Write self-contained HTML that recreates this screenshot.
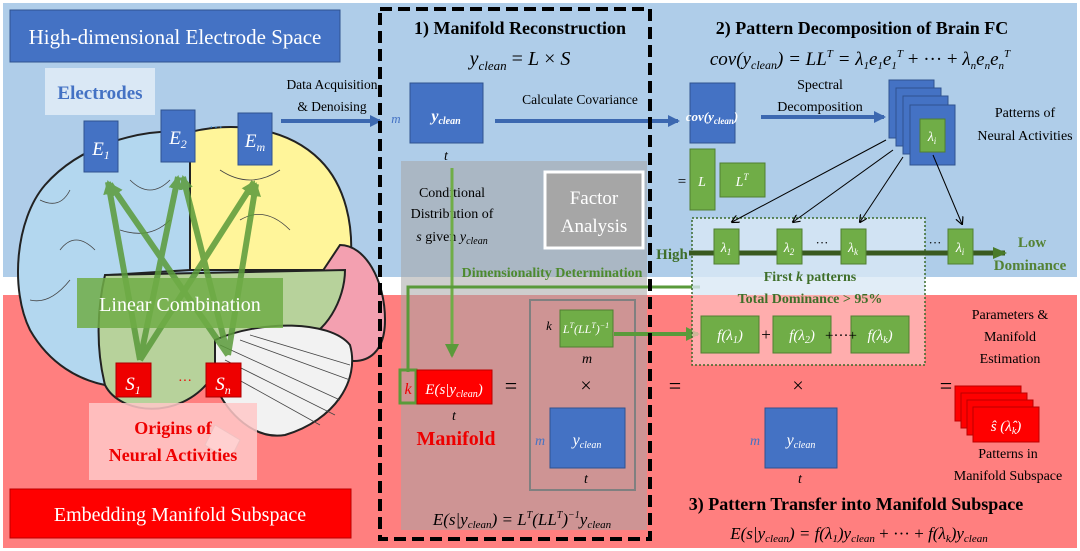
<!DOCTYPE html>
<html><head><meta charset="utf-8"><style>
body{margin:0;width:1080px;height:551px;overflow:hidden;background:#fff}
svg{display:block}
text{font-family:"Liberation Serif",serif}
.it{font-style:italic}
</style></head><body>
<svg width="1080" height="551" viewBox="0 0 1080 551" xmlns="http://www.w3.org/2000/svg">
<defs>
<marker id="ab" markerUnits="userSpaceOnUse" markerWidth="14" markerHeight="14" refX="10" refY="7" orient="auto"><path d="M0,1 L12,7 L0,13 z" fill="#3c68b0"/></marker>
<marker id="ag" markerUnits="userSpaceOnUse" markerWidth="16" markerHeight="16" refX="12" refY="8" orient="auto"><path d="M0,1 L14,8 L0,15 z" fill="#5a9a3a"/></marker>
<marker id="ak" markerWidth="8" markerHeight="8" refX="7" refY="4" orient="auto"><path d="M0,0 L8,4 L0,8" fill="none" stroke="#000" stroke-width="1.2"/></marker>
<marker id="agd" markerUnits="userSpaceOnUse" markerWidth="16" markerHeight="16" refX="12" refY="8" orient="auto"><path d="M0,2 L14,8 L0,14 z" fill="#4a7a2a"/></marker>
</defs>
<rect x="3" y="3" width="1074" height="274" fill="#afcde9"/>
<rect x="3" y="295" width="1074" height="253" fill="#ff7f7f"/>
<!-- brain -->
<g stroke="#222" stroke-width="2">
<path d="M190,132 C140,128 80,145 45,185 C15,220 10,290 30,330 C50,365 80,380 105,385 L110,275 L190,270 z" fill="#b3d7ef"/>
<path d="M190,132 C240,120 290,130 320,160 C345,185 355,225 350,270 L190,270 z" fill="#fff59a"/>
<path d="M340,245 C365,245 385,280 385,320 C385,350 370,365 345,360 L300,340 L320,275 z" fill="#f3a0b0"/>
<path d="M105,275 L345,270 C345,300 325,335 300,340 C260,350 230,360 210,380 C180,420 120,415 105,385 C95,345 98,305 105,275 z" fill="#b7d29b"/>
<path d="M215,340 C260,320 330,320 350,345 C360,380 335,420 285,435 C255,440 228,415 215,385 z" fill="#f2f2f2"/>
</g>
<g stroke="#444" stroke-width="0.8" fill="none">
<path d="M220,345 L340,400 M225,360 L335,415 M230,375 L320,425 M240,340 L350,380 M250,335 L350,365"/>
<path d="M40,200 q20,10 30,-10 M60,250 q15,-20 35,0 M30,300 q20,5 40,-20 M130,180 q20,20 40,0 M120,230 q30,10 50,-10 M220,170 q30,20 60,0 M240,220 q25,-15 50,10"/>
</g>
<path d="M215,425 L240,440 L230,460 L205,445 z" fill="#fff" stroke="#999"/>
<rect x="10" y="10" width="330" height="52" fill="#4472c4" stroke="#2f528f"/>
<text x="175" y="44" font-size="21" fill="#fff" text-anchor="middle">High-dimensional Electrode Space</text>
<rect x="45" y="68" width="110" height="47" fill="#dae8f5"/>
<text x="100" y="99" font-size="19" font-weight="bold" fill="#4472c4" text-anchor="middle">Electrodes</text>
<g stroke="#5a9a3a" stroke-width="6" opacity="0.85" marker-end="url(#ag)">
<line x1="140" y1="360" x2="108" y2="182"/>
<line x1="228" y1="355" x2="110" y2="184"/>
<line x1="140" y1="360" x2="178" y2="177"/>
<line x1="228" y1="355" x2="183" y2="177"/>
<line x1="140" y1="360" x2="254" y2="182"/>
<line x1="228" y1="355" x2="256" y2="184"/>
</g>
<rect x="77" y="278" width="206" height="50" fill="#70ad47" opacity="0.85"/>
<text x="180" y="311" font-size="20" fill="#fff" text-anchor="middle">Linear Combination</text>
<rect x="84" y="121" width="34" height="51" fill="#4472c4" stroke="#2f528f"/>
<text x="101" y="155" font-size="19" fill="#fff" text-anchor="middle" class="it">E<tspan font-size="12" dy="4">1</tspan></text>
<rect x="161" y="110" width="34" height="52" fill="#4472c4" stroke="#2f528f"/>
<text x="178" y="144" font-size="19" fill="#fff" text-anchor="middle" class="it">E<tspan font-size="12" dy="4">2</tspan></text>
<text x="216" y="132" font-size="14" fill="#2e75b6" text-anchor="middle">···</text>
<rect x="238" y="113" width="34" height="52" fill="#4472c4" stroke="#2f528f"/>
<text x="255" y="147" font-size="19" fill="#fff" text-anchor="middle" class="it">E<tspan font-size="12" dy="4">m</tspan></text>
<rect x="116" y="363" width="35" height="34" fill="#e00" stroke="#a00"/>
<text x="133" y="390" font-size="19" fill="#fff" text-anchor="middle" class="it">S<tspan font-size="12" dy="4">1</tspan></text>
<text x="185" y="385" font-size="14" fill="#e00" text-anchor="middle">···</text>
<rect x="206" y="363" width="35" height="34" fill="#e00" stroke="#a00"/>
<text x="223" y="390" font-size="19" fill="#fff" text-anchor="middle" class="it">S<tspan font-size="12" dy="4">n</tspan></text>
<rect x="89" y="403" width="168" height="77" fill="#ffc8c8" opacity="0.85"/>
<text x="173" y="434" font-size="18" font-weight="bold" fill="#e00" text-anchor="middle">Origins of</text>
<text x="173" y="461" font-size="18" font-weight="bold" fill="#e00" text-anchor="middle">Neural Activities</text>
<rect x="10" y="489" width="341" height="49" fill="#f00" stroke="#b00"/>
<text x="180" y="521" font-size="20" fill="#fff" text-anchor="middle">Embedding Manifold Subspace</text>
<text x="332" y="89" font-size="13.5" text-anchor="middle">Data Acquisition</text>
<text x="332" y="111" font-size="13.5" text-anchor="middle">&amp; Denoising</text>
<line x1="281" y1="121" x2="380" y2="121" stroke="#3c68b0" stroke-width="4" marker-end="url(#ab)"/>
<!-- section 1 -->
<rect x="401" y="161" width="246" height="369" fill="#a6a6a6" opacity="0.55"/>
<text x="520" y="34" font-size="18" font-weight="bold" text-anchor="middle">1) Manifold Reconstruction</text>
<text x="520" y="65" font-size="20" text-anchor="middle" class="it">y<tspan font-size="13" dy="5">clean</tspan><tspan dy="-5" font-style="normal"> = </tspan>L<tspan font-style="normal"> × </tspan>S</text>
<text x="396" y="123" font-size="13" fill="#4472c4" class="it" text-anchor="middle">m</text>
<rect x="410" y="83" width="73" height="60" fill="#4472c4" stroke="#2f528f"/>
<text x="446" y="121" font-size="16" fill="#fff" font-weight="bold" class="it" text-anchor="middle">y<tspan font-size="10" dy="3">clean</tspan></text>
<text x="446" y="160" font-size="14" class="it" text-anchor="middle">t</text>
<text x="580" y="104" font-size="13.5" text-anchor="middle">Calculate Covariance</text>
<line x1="495" y1="121" x2="678" y2="121" stroke="#3c68b0" stroke-width="4" marker-end="url(#ab)"/>
<text x="452" y="197" font-size="14" text-anchor="middle">Conditional</text>
<text x="452" y="218" font-size="14" text-anchor="middle">Distribution of</text>
<text x="452" y="241" font-size="14" text-anchor="middle"><tspan class="it">s</tspan> given <tspan class="it">y<tspan font-size="10" dy="3">clean</tspan></tspan></text>
<rect x="545" y="172" width="98" height="76" fill="#a6a6a6" stroke="#fff" stroke-width="3"/>
<text x="594" y="204" font-size="19" fill="#fff" text-anchor="middle">Factor</text>
<text x="594" y="232" font-size="19" fill="#fff" text-anchor="middle">Analysis</text>
<text x="552" y="277" font-size="14" font-weight="bold" fill="#4e8a2e" text-anchor="middle">Dimensionality Determination</text>
<line x1="452" y1="168" x2="452" y2="356" stroke="#70ad47" stroke-width="3" marker-end="url(#ag)"/>
<polyline points="700,287 408,287 408,372" fill="none" stroke="#5a9a3a" stroke-width="3"/>
<rect x="400" y="370" width="16" height="33" fill="none" stroke="#5a9a3a" stroke-width="3"/>
<text x="408" y="394" font-size="16" fill="#e00" class="it" text-anchor="middle">k</text>
<rect x="417" y="370" width="75" height="34" fill="#f00" stroke="#b00"/>
<text x="454" y="394" font-size="15" fill="#fff" class="it" text-anchor="middle">E(s|y<tspan font-size="10" dy="3">clean</tspan><tspan dy="-3">)</tspan></text>
<text x="454" y="420" font-size="14" class="it" text-anchor="middle">t</text>
<text x="456" y="445" font-size="20" font-weight="bold" fill="#e00" text-anchor="middle">Manifold</text>
<text x="511" y="393" font-size="22" text-anchor="middle">=</text>
<rect x="530" y="300" width="105" height="190" fill="none" stroke="#808080" stroke-width="2"/>
<text x="549" y="330" font-size="13" class="it" text-anchor="middle">k</text>
<rect x="560" y="310" width="53" height="37" fill="#70ad47" stroke="#507e32"/>
<text x="586" y="333" font-size="12" fill="#fff" class="it" text-anchor="middle">L<tspan font-size="8" dy="-5">T</tspan><tspan dy="5">(LL</tspan><tspan font-size="8" dy="-5">T</tspan><tspan dy="5">)</tspan><tspan font-size="8" dy="-5">−1</tspan></text>
<text x="587" y="363" font-size="14" class="it" text-anchor="middle">m</text>
<text x="586" y="392" font-size="20" text-anchor="middle">×</text>
<text x="540" y="445" font-size="14" fill="#4472c4" class="it" text-anchor="middle">m</text>
<rect x="550" y="408" width="75" height="60" fill="#4472c4" stroke="#2f528f"/>
<text x="587" y="445" font-size="16" fill="#fff" class="it" text-anchor="middle">y<tspan font-size="10" dy="3">clean</tspan></text>
<text x="586" y="483" font-size="14" class="it" text-anchor="middle">t</text>
<line x1="614" y1="334" x2="698" y2="334" stroke="#5a9a3a" stroke-width="4" marker-end="url(#ag)"/>
<text x="522" y="525" font-size="17" class="it" text-anchor="middle">E(s|y<tspan font-size="11" dy="3">clean</tspan><tspan dy="-3">) = L</tspan><tspan font-size="10" dy="-7">T</tspan><tspan dy="7">(LL</tspan><tspan font-size="10" dy="-7">T</tspan><tspan dy="7">)</tspan><tspan font-size="10" dy="-7">−1</tspan><tspan dy="7">y</tspan><tspan font-size="11" dy="3">clean</tspan></text>
<rect x="380" y="9" width="270" height="530" fill="none" stroke="#000" stroke-width="4" stroke-dasharray="12,6"/>
<!-- section 2 -->
<text x="862" y="34" font-size="18" font-weight="bold" text-anchor="middle">2) Pattern Decomposition of Brain FC</text>
<text x="860" y="65" font-size="19" class="it" text-anchor="middle">cov(y<tspan font-size="12" dy="4">clean</tspan><tspan dy="-4">) = LL</tspan><tspan font-size="11" dy="-8">T</tspan><tspan dy="8"> = λ</tspan><tspan font-size="11" dy="4">1</tspan><tspan dy="-4">e</tspan><tspan font-size="11" dy="4">1</tspan><tspan dy="-4">e</tspan><tspan font-size="11" dy="4">1</tspan><tspan font-size="11" dy="-12">T</tspan><tspan dy="8" font-style="normal"> + ··· + </tspan>λ<tspan font-size="11" dy="4">n</tspan><tspan dy="-4">e</tspan><tspan font-size="11" dy="4">n</tspan><tspan dy="-4">e</tspan><tspan font-size="11" dy="4">n</tspan><tspan font-size="11" dy="-12">T</tspan></text>
<rect x="690" y="83" width="45" height="60" fill="#4472c4" stroke="#2f528f"/>
<text x="712" y="121" font-size="13" fill="#fff" class="it" font-weight="bold" text-anchor="middle">cov(y<tspan font-size="9" dy="3">clean</tspan><tspan dy="-3">)</tspan></text>
<text x="820" y="89" font-size="14" text-anchor="middle">Spectral</text>
<text x="820" y="111" font-size="14" text-anchor="middle">Decomposition</text>
<line x1="761" y1="117" x2="884" y2="117" stroke="#3c68b0" stroke-width="4" marker-end="url(#ab)"/>
<g fill="#4472c4" stroke="#2f528f">
<rect x="889" y="80" width="45" height="58"/>
<rect x="896" y="88" width="45" height="58"/>
<rect x="903" y="96" width="45" height="58"/>
<rect x="910" y="105" width="45" height="60"/>
</g>
<rect x="920" y="119" width="25" height="33" fill="#70ad47" stroke="#507e32"/>
<text x="932" y="141" font-size="14" fill="#fff" class="it" text-anchor="middle">λ<tspan font-size="9" dy="3">i</tspan></text>
<text x="1025" y="117" font-size="14" text-anchor="middle">Patterns of</text>
<text x="1025" y="140" font-size="14" text-anchor="middle">Neural Activities</text>
<text x="682" y="186" font-size="15" text-anchor="middle">=</text>
<rect x="690" y="149" width="25" height="61" fill="#70ad47" stroke="#507e32"/>
<text x="702" y="186" font-size="14" fill="#fff" class="it" text-anchor="middle">L</text>
<rect x="720" y="163" width="45" height="34" fill="#70ad47" stroke="#507e32"/>
<text x="742" y="186" font-size="14" fill="#fff" class="it" text-anchor="middle">L<tspan font-size="9" dy="-6">T</tspan></text>
<rect x="692" y="218" width="233" height="77" fill="#dae8f5" opacity="0.8"/>
<rect x="692" y="295" width="233" height="70" fill="#ffc0c0" opacity="0.7"/>
<rect x="692" y="218" width="233" height="147" fill="none" stroke="#3a6a2a" stroke-width="1.5" stroke-dasharray="2,2"/>
<g stroke="#000" stroke-width="1" marker-end="url(#ak)">
<line x1="886" y1="140" x2="732" y2="222"/>
<line x1="893" y1="150" x2="793" y2="222"/>
<line x1="903" y1="157" x2="860" y2="222"/>
<line x1="933" y1="155" x2="962" y2="224"/>
</g>
<text x="672" y="259" font-size="15" font-weight="bold" fill="#3f6f2a" text-anchor="middle">High</text>
<line x1="689" y1="253" x2="1005" y2="253" stroke="#3a5a20" stroke-width="5" marker-end="url(#agd)"/>
<g fill="#70ad47" stroke="#507e32">
<rect x="714" y="229" width="25" height="35"/><rect x="777" y="229" width="25" height="35"/>
<rect x="841" y="229" width="25" height="35"/><rect x="948" y="229" width="25" height="35"/>
</g>
<g font-size="14" fill="#fff" class="it" text-anchor="middle">
<text x="726" y="252">λ<tspan font-size="9" dy="3">1</tspan></text>
<text x="789" y="252">λ<tspan font-size="9" dy="3">2</tspan></text>
<text x="853" y="252">λ<tspan font-size="9" dy="3">k</tspan></text>
<text x="960" y="252">λ<tspan font-size="9" dy="3">i</tspan></text>
</g>
<text x="822" y="247" font-size="13" text-anchor="middle">···</text>
<text x="935" y="247" font-size="13" text-anchor="middle">···</text>
<text x="1032" y="247" font-size="15" font-weight="bold" fill="#548235" text-anchor="middle">Low</text>
<text x="1030" y="270" font-size="15" font-weight="bold" fill="#548235" text-anchor="middle">Dominance</text>
<text x="810" y="281" font-size="14" font-weight="bold" fill="#3f6f2a" text-anchor="middle">First <tspan class="it">k</tspan> patterns</text>
<text x="810" y="303" font-size="14" font-weight="bold" fill="#3f6f2a" text-anchor="middle">Total Dominance &gt; 95%</text>
<g fill="#70ad47" stroke="#507e32">
<rect x="701" y="316" width="58" height="37"/><rect x="773" y="316" width="58" height="37"/><rect x="851" y="316" width="58" height="37"/>
</g>
<g font-size="15" fill="#fff" class="it" text-anchor="middle">
<text x="730" y="340">f(λ<tspan font-size="10" dy="3">1</tspan><tspan dy="-3">)</tspan></text>
<text x="802" y="340">f(λ<tspan font-size="10" dy="3">2</tspan><tspan dy="-3">)</tspan></text>
<text x="880" y="340">f(λ<tspan font-size="10" dy="3">k</tspan><tspan dy="-3">)</tspan></text>
</g>
<text x="766" y="340" font-size="17" text-anchor="middle">+</text>
<text x="841" y="340" font-size="15" text-anchor="middle">+···+</text>
<text x="1010" y="319" font-size="14" text-anchor="middle">Parameters &amp;</text>
<text x="1010" y="341" font-size="14" text-anchor="middle">Manifold</text>
<text x="1010" y="363" font-size="14" text-anchor="middle">Estimation</text>
<text x="675" y="393" font-size="22" text-anchor="middle">=</text>
<text x="798" y="392" font-size="20" text-anchor="middle">×</text>
<text x="755" y="445" font-size="14" fill="#4472c4" class="it" text-anchor="middle">m</text>
<rect x="765" y="408" width="72" height="60" fill="#4472c4" stroke="#2f528f"/>
<text x="801" y="445" font-size="16" fill="#fff" class="it" text-anchor="middle">y<tspan font-size="10" dy="3">clean</tspan></text>
<text x="800" y="483" font-size="14" class="it" text-anchor="middle">t</text>
<text x="946" y="393" font-size="22" text-anchor="middle">=</text>
<g fill="#f00" stroke="#b00">
<rect x="955" y="386" width="66" height="35"/><rect x="961" y="393" width="66" height="35"/>
<rect x="967" y="400" width="66" height="35"/><rect x="973" y="407" width="66" height="35"/>
</g>
<text x="1006" y="431" font-size="15" fill="#fff" class="it" text-anchor="middle">ŝ (λ̂<tspan font-size="10" dy="3">k</tspan><tspan dy="-3">)</tspan></text>
<text x="1008" y="458" font-size="14" text-anchor="middle">Patterns in</text>
<text x="1008" y="480" font-size="14" text-anchor="middle">Manifold Subspace</text>
<text x="856" y="510" font-size="18" font-weight="bold" text-anchor="middle">3) Pattern Transfer into Manifold Subspace</text>
<text x="859" y="539" font-size="17" class="it" text-anchor="middle">E(s|y<tspan font-size="11" dy="3">clean</tspan><tspan dy="-3">) = f(λ</tspan><tspan font-size="11" dy="3">1</tspan><tspan dy="-3">)y</tspan><tspan font-size="11" dy="3">clean</tspan><tspan dy="-3" font-style="normal"> + ··· + </tspan>f(λ<tspan font-size="11" dy="3">k</tspan><tspan dy="-3">)y</tspan><tspan font-size="11" dy="3">clean</tspan></text>
</svg>
</body></html>
